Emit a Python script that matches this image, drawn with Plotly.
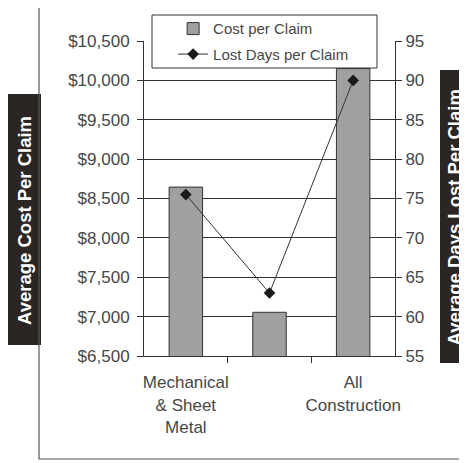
import plotly.graph_objects as go

categories = ["Mechanical<br>& Sheet<br>Metal", "", "All<br>Construction"]
cost_per_claim = [8645, 7055, 10150]
lost_days_per_claim = [75.5, 63, 90]
cost_ticks = [6500, 7000, 7500, 8000, 8500, 9000, 9500, 10000, 10500]
cost_tick_labels = ["$6,500", "$7,000", "$7,500", "$8,000", "$8,500",
                    "$9,000", "$9,500", "$10,000", "$10,500"]
days_ticks = [55, 60, 65, 70, 75, 80, 85, 90, 95]

FONT = "Arial, Liberation Sans, sans-serif"
TXT = "#474747"
LINE = "#333333"
O = 8  # page body offset
FW, FH = 467 - O, 463 - O

xpos = list(range(len(categories)))

fig = go.Figure()
fig.add_trace(go.Bar(
    x=xpos, y=cost_per_claim, name="Cost per Claim", width=0.4,
    marker=dict(color="#a0a0a0", line=dict(color=LINE, width=1)),
    legendgroup="a", yaxis="y",
))
fig.add_trace(go.Scatter(
    x=xpos, y=lost_days_per_claim, name="Lost Days per Claim", mode="lines+markers",
    line=dict(color=LINE, width=1),
    marker=dict(symbol="diamond", size=9, color="#1a1a1a"),
    legendgroup="b", yaxis="y2",
))

fig.update_layout(
    width=FW, height=FH,
    margin=dict(l=144 - O, r=FW - (395 - O), t=41 - O, b=FH - (356 - O), autoexpand=False),
    paper_bgcolor="white", plot_bgcolor="white",
    font=dict(family=FONT, color=TXT, size=17),
    showlegend=True,
    legend=dict(
        x=0.116, y=1.091, xanchor="left", yanchor="top",
        bgcolor="rgba(0,0,0,0)", borderwidth=0,
        font=dict(size=15, color=TXT, family=FONT),
        traceorder="grouped", tracegroupgap=3,
    ),
    xaxis=dict(
        range=[-0.5, 2.5], tickmode="array", tickvals=xpos, ticktext=categories,
        ticks="", showline=True, linecolor=LINE, linewidth=1, showgrid=False,
        zeroline=False, ticklabelstandoff=11,
        minor=dict(tickmode="array", tickvals=[0.5, 1.5], ticks="outside",
                   ticklen=6, tickcolor=LINE, tickwidth=1, showgrid=False),
        tickfont=dict(size=17, color=TXT),
    ),
    yaxis=dict(
        range=[6500, 10500], tickmode="array", tickvals=cost_ticks,
        ticktext=cost_tick_labels,
        ticks="outside", ticklen=6, tickcolor=LINE, ticklabelstandoff=4,
        showline=True, linecolor=LINE, linewidth=1,
        showgrid=True, gridcolor=LINE, gridwidth=1, zeroline=False,
        tickfont=dict(size=17, color=TXT),
    ),
    yaxis2=dict(
        range=[55, 95], tickmode="array", tickvals=days_ticks,
        overlaying="y", side="right",
        ticks="outside", ticklen=6, tickcolor=LINE,
        showline=True, linecolor=LINE, linewidth=1,
        showgrid=False, zeroline=False,
        tickfont=dict(size=17, color=TXT),
    ),
)

W, H = 251.0, 315.0
def px(x):
    return (x - 144) / W
def py(y):
    return (356 - y) / H

shapes = [
    dict(type="rect", xref="paper", yref="paper", x0=px(7), x1=px(41), y0=py(345), y1=py(94),
         line=dict(width=0), fillcolor="#2b2623", layer="below"),
    dict(type="rect", xref="paper", yref="paper", x0=px(440), x1=px(470), y0=py(363), y1=py(70),
         line=dict(width=0), fillcolor="#2b2623", layer="below"),
    dict(type="rect", xref="paper", yref="paper", x0=px(39), x1=px(460), y0=py(459), y1=py(6),
         line=dict(color="#555555", width=1.2), fillcolor="rgba(0,0,0,0)", layer="below"),
    dict(type="rect", xref="paper", yref="paper", x0=px(152), x1=px(377), y0=py(68), y1=py(15),
         line=dict(color=LINE, width=1), fillcolor="white", layer="above"),
]
fig.update_layout(shapes=shapes)

fig.add_annotation(x=px(24.5), y=py(220.5), xref="paper", yref="paper",
                   xanchor="center", yanchor="middle",
                   text="<b>Average Cost Per Claim</b>", textangle=-90, showarrow=False,
                   font=dict(family=FONT, size=18.5, color="#ffffff"))
fig.add_annotation(x=px(454), y=py(217.5), xref="paper", yref="paper",
                   xanchor="center", yanchor="middle",
                   text="<b>Average Days Lost Per Claim</b>", textangle=-90, showarrow=False,
                   font=dict(family=FONT, size=18.5, color="#ffffff"))

fig.write_html("out.html")
